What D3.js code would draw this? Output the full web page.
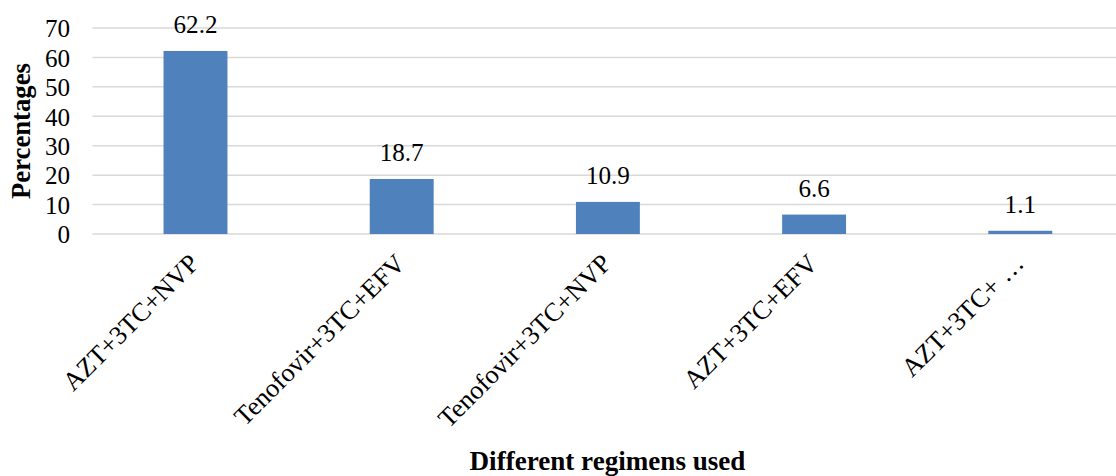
<!DOCTYPE html>
<html>
<head>
<meta charset="utf-8">
<script src="https://cdn.jsdelivr.net/npm/d3@7"></script>
<style>
  html, body { margin: 0; padding: 0; background: #fff; }
  svg { display: block; }
</style>
</head>
<body>
<svg id="chart" width="1116" height="476"></svg>
<script>
const categories = ["AZT+3TC+NVP", "Tenofovir+3TC+EFV", "Tenofovir+3TC+NVP", "AZT+3TC+EFV", "AZT+3TC+ …"];
const values = [62.2, 18.7, 10.9, 6.6, 1.1];
const yTicks = [0, 10, 20, 30, 40, 50, 60, 70];
const yTitle = "Percentages";
const xTitle = "Different regimens used";

const FONT = "'Liberation Serif', Tinos, 'Times New Roman', 'DejaVu Serif', serif";
const svg = d3.select("#chart").attr("font-family", FONT);
const plotLeft = 92.4, plotRight = 1123.4, plotTop = 28, plotBottom = 234;

// pick font sizes so text widths match the reference
function fitSize(str, weight, targetWidth) {
  const t = svg.append("text").attr("font-size", 100).attr("font-weight", weight).text(str);
  const w = t.node().getComputedTextLength();
  t.remove();
  return 100 * targetWidth / w;
}
const bodySize = Math.min(26, fitSize("62.2", "normal", 44));
const catSize = Math.min(27, fitSize("AZT+3TC+NVP", "normal", 180));
const yTitleSize = fitSize(yTitle, "bold", 136);
const xTitleSize = fitSize(xTitle, "bold", 276);

const x = d3.scaleBand().domain(categories).range([plotLeft, plotRight])
  .paddingInner(0.69).paddingOuter(0.345);
const y = d3.scaleLinear().domain([0, 70]).range([plotBottom, plotTop]);

// gridlines
svg.append("g").selectAll("line").data(yTicks).join("line")
  .attr("x1", plotLeft).attr("x2", plotRight)
  .attr("y1", d => y(d)).attr("y2", d => y(d))
  .attr("stroke", "#d9d9d9").attr("stroke-width", 1.5);

// y axis labels
const yAxis = d3.axisLeft(y).tickValues(yTicks).tickSize(0).tickPadding(0);
const gy = svg.append("g").attr("transform", `translate(70,0)`).call(yAxis)
  .attr("font-family", FONT).attr("font-size", bodySize);
gy.select(".domain").remove();
gy.selectAll("text").attr("fill", "#000").attr("dy", "0.35em");

// bars
svg.append("g").selectAll("rect").data(values).join("rect")
  .attr("x", (d, i) => x(categories[i]))
  .attr("width", x.bandwidth())
  .attr("y", d => y(d))
  .attr("height", d => y(0) - y(d))
  .attr("fill", "#4F81BD");

// value labels
svg.append("g").selectAll("text").data(values).join("text")
  .attr("x", (d, i) => x(categories[i]) + x.bandwidth() / 2)
  .attr("y", d => y(d) - 18)
  .attr("text-anchor", "middle")
  .attr("font-family", FONT)
  .attr("font-size", bodySize)
  .text(d => d.toFixed(1));

// category labels
svg.append("g").selectAll("text").data(categories).join("text")
  .attr("transform", d => `translate(${x(d) + x.bandwidth() / 2 + 5},265) rotate(-45)`)
  .attr("text-anchor", "end")
  .attr("font-family", FONT)
  .attr("font-size", catSize)
  .text(d => d);

// y title
svg.append("text")
  .attr("transform", `translate(30,${(plotTop + plotBottom) / 2}) rotate(-90)`)
  .attr("text-anchor", "middle")
  .attr("font-family", FONT)
  .attr("font-size", yTitleSize).attr("font-weight", "bold")
  .text(yTitle);

// x title
svg.append("text")
  .attr("x", 607.5).attr("y", 470)
  .attr("text-anchor", "middle")
  .attr("font-family", FONT)
  .attr("font-size", xTitleSize).attr("font-weight", "bold")
  .text(xTitle);
</script>
</body>
</html>
